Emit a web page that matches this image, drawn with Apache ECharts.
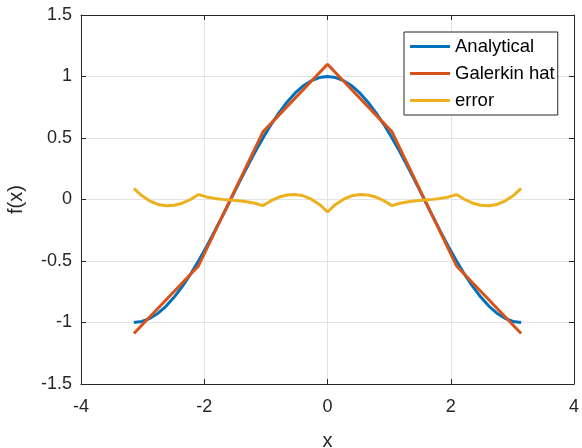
<!DOCTYPE html>
<html>
<head>
<meta charset="utf-8">
<script src="https://cdn.jsdelivr.net/npm/echarts@6/dist/echarts.min.js"></script>
<style>
  html, body { margin: 0; padding: 0; background: #fff; }
  #chart { width: 582px; height: 448px; }
</style>
</head>
<body>
<div id="chart"></div>
<script>
// sample positions read along x (from -pi to pi)
const xs = [
  -3.142, -3.011, -2.880, -2.749, -2.618, -2.487, -2.356, -2.225, -2.094,
  -1.963, -1.833, -1.702, -1.571, -1.440, -1.309, -1.178, -1.047,
  -0.916, -0.785, -0.654, -0.524, -0.393, -0.262, -0.131, 0,
  0.131, 0.262, 0.393, 0.524, 0.654, 0.785, 0.916, 1.047,
  1.178, 1.309, 1.440, 1.571, 1.702, 1.833, 1.963, 2.094,
  2.225, 2.356, 2.487, 2.618, 2.749, 2.880, 3.011, 3.142
]
const analytical = [
  -1, -0.991, -0.966, -0.924, -0.866, -0.793, -0.707, -0.609, -0.5,
  -0.383, -0.259, -0.131, 0, 0.131, 0.259, 0.383, 0.5,
  0.609, 0.707, 0.793, 0.866, 0.924, 0.966, 0.991, 1,
  0.991, 0.966, 0.924, 0.866, 0.793, 0.707, 0.609, 0.5,
  0.383, 0.259, 0.131, 0, -0.131, -0.259, -0.383, -0.5,
  -0.609, -0.707, -0.793, -0.866, -0.924, -0.966, -0.991, -1
]
const errorVals = [
  0.09, 0.030, -0.013, -0.040, -0.051, -0.047, -0.030, 0.000, 0.04,
  0.021, 0.009, 0.001, -0.005, -0.011, -0.019, -0.031, -0.05,
  -0.010, 0.020, 0.037, 0.041, 0.030, 0.003, -0.040, -0.1,
  -0.040, 0.003, 0.030, 0.041, 0.037, 0.020, -0.010, -0.05,
  -0.031, -0.019, -0.011, -0.005, 0.001, 0.009, 0.021, 0.04,
  0.000, -0.030, -0.047, -0.051, -0.040, -0.013, 0.030, 0.09
]
// hat-function nodes
const nodeX = [-3.142, -2.094, -1.047, 0, 1.047, 2.094, 3.142]
const galerkin = [-1.09, -0.54, 0.55, 1.1, 0.55, -0.54, -1.09]

const xTicks = [-4, -2, 0, 2, 4]
const yTicks = [-1.5, -1, -0.5, 0, 0.5, 1, 1.5]

const seriesNames = ['Analytical', 'Galerkin hat', 'error']
const colors = ['#0072BD', '#D95319', '#EDB120']

const ink = '#262626'
const font = 'Liberation Sans, Arial, Helvetica, sans-serif'

const zip = (a, b) => a.map((v, i) => [v, b[i]])

const axisCommon = {
  type: 'value',
  axisLine: { show: true, onZero: false, lineStyle: { color: ink, width: 1 } },
  axisTick: { show: true, inside: true, length: 5, lineStyle: { color: ink } },
  splitLine: { show: false }
}

const chart = echarts.init(document.getElementById('chart'), null, { renderer: 'canvas' })
chart.setOption({
  animation: false,
  backgroundColor: '#fff',
  textStyle: { fontFamily: font },
  grid: { left: 81, right: 8, top: 15, bottom: 64, containLabel: false, outerBoundsMode: 'none' },
  legend: {
    data: seriesNames,
    orient: 'vertical',
    left: 404,
    top: 32,
    padding: [5, 3, 5, 6],
    itemGap: 8,
    itemWidth: 40,
    itemHeight: 3,
    icon: 'rect',
    borderColor: ink,
    borderWidth: 1,
    borderRadius: 0,
    backgroundColor: '#fff',
    textStyle: { color: '#000', fontSize: 18.5, fontFamily: font, lineHeight: 18 }
  },
  xAxis: [
    {
      ...axisCommon,
      min: -4, max: 4, interval: 2,
      name: 'x',
      nameLocation: 'middle',
      nameGap: 47,
      nameTextStyle: { color: ink, fontSize: 20, fontFamily: font },
      axisLabel: { color: ink, fontSize: 18, margin: 14, fontFamily: font,
        formatter: v => xTicks.includes(v) ? String(v) : '' },
      splitLine: { show: true, lineStyle: { color: '#e3e3e3', width: 1 } }
    },
    { ...axisCommon, position: 'top', min: -4, max: 4, interval: 2, axisLabel: { show: false } }
  ],
  yAxis: [
    {
      ...axisCommon,
      min: -1.5, max: 1.5, interval: 0.5,
      name: 'f(x)',
      nameLocation: 'middle',
      nameGap: 55,
      nameTextStyle: { color: ink, fontSize: 20, fontFamily: font },
      axisLabel: { color: ink, fontSize: 18, margin: 9, fontFamily: font,
        formatter: v => yTicks.includes(v) ? String(v) : '' },
      splitLine: { show: true, lineStyle: { color: '#e3e3e3', width: 1 } }
    },
    { ...axisCommon, position: 'right', min: -1.5, max: 1.5, interval: 0.5, axisLabel: { show: false } }
  ],
  series: [
    {
      name: seriesNames[0], type: 'line', data: zip(xs, analytical),
      showSymbol: false, symbol: 'none', smooth: false,
      lineStyle: { color: colors[0], width: 3 }, itemStyle: { color: colors[0] }, z: 2
    },
    {
      name: seriesNames[1], type: 'line', data: zip(nodeX, galerkin),
      showSymbol: false, symbol: 'none',
      lineStyle: { color: colors[1], width: 3 }, itemStyle: { color: colors[1] }, z: 3
    },
    {
      name: seriesNames[2], type: 'line', data: zip(xs, errorVals),
      showSymbol: false, symbol: 'none', smooth: false,
      lineStyle: { color: colors[2], width: 3 }, itemStyle: { color: colors[2] }, z: 4
    }
  ]
})
</script>
</body>
</html>
